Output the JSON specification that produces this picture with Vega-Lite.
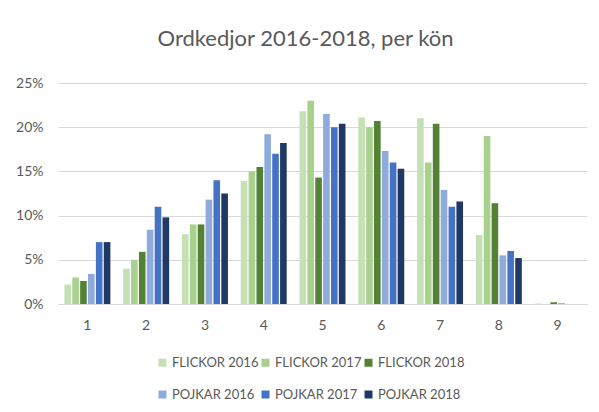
{
  "$schema": "https://vega.github.io/schema/vega-lite/v6.json",
  "width": 529,
  "height": 221,
  "autosize": {"type": "none"},
  "padding": {"left": 58, "top": 83, "right": 12, "bottom": 108},
  "background": "white",
  "title": {
    "text": "Ordkedjor 2016-2018, per kön",
    "font": "Lato",
    "fontSize": 22,
    "fontWeight": "normal",
    "color": "#595959",
    "anchor": "middle",
    "dx": -17,
    "offset": 25
  },
  "data": {
    "values": [
      {"cat": "1", "serie": "FLICKOR 2016", "value": 0.022},
      {"cat": "1", "serie": "FLICKOR 2017", "value": 0.030},
      {"cat": "1", "serie": "FLICKOR 2018", "value": 0.026},
      {"cat": "1", "serie": "POJKAR 2016", "value": 0.034},
      {"cat": "1", "serie": "POJKAR 2017", "value": 0.070},
      {"cat": "1", "serie": "POJKAR 2018", "value": 0.070},
      {"cat": "2", "serie": "FLICKOR 2016", "value": 0.040},
      {"cat": "2", "serie": "FLICKOR 2017", "value": 0.050},
      {"cat": "2", "serie": "FLICKOR 2018", "value": 0.059},
      {"cat": "2", "serie": "POJKAR 2016", "value": 0.084},
      {"cat": "2", "serie": "POJKAR 2017", "value": 0.110},
      {"cat": "2", "serie": "POJKAR 2018", "value": 0.098},
      {"cat": "3", "serie": "FLICKOR 2016", "value": 0.079},
      {"cat": "3", "serie": "FLICKOR 2017", "value": 0.090},
      {"cat": "3", "serie": "FLICKOR 2018", "value": 0.090},
      {"cat": "3", "serie": "POJKAR 2016", "value": 0.118},
      {"cat": "3", "serie": "POJKAR 2017", "value": 0.140},
      {"cat": "3", "serie": "POJKAR 2018", "value": 0.125},
      {"cat": "4", "serie": "FLICKOR 2016", "value": 0.139},
      {"cat": "4", "serie": "FLICKOR 2017", "value": 0.150},
      {"cat": "4", "serie": "FLICKOR 2018", "value": 0.155},
      {"cat": "4", "serie": "POJKAR 2016", "value": 0.192},
      {"cat": "4", "serie": "POJKAR 2017", "value": 0.170},
      {"cat": "4", "serie": "POJKAR 2018", "value": 0.182},
      {"cat": "5", "serie": "FLICKOR 2016", "value": 0.218},
      {"cat": "5", "serie": "FLICKOR 2017", "value": 0.230},
      {"cat": "5", "serie": "FLICKOR 2018", "value": 0.143},
      {"cat": "5", "serie": "POJKAR 2016", "value": 0.215},
      {"cat": "5", "serie": "POJKAR 2017", "value": 0.200},
      {"cat": "5", "serie": "POJKAR 2018", "value": 0.204},
      {"cat": "6", "serie": "FLICKOR 2016", "value": 0.211},
      {"cat": "6", "serie": "FLICKOR 2017", "value": 0.200},
      {"cat": "6", "serie": "FLICKOR 2018", "value": 0.207},
      {"cat": "6", "serie": "POJKAR 2016", "value": 0.173},
      {"cat": "6", "serie": "POJKAR 2017", "value": 0.160},
      {"cat": "6", "serie": "POJKAR 2018", "value": 0.153},
      {"cat": "7", "serie": "FLICKOR 2016", "value": 0.210},
      {"cat": "7", "serie": "FLICKOR 2017", "value": 0.160},
      {"cat": "7", "serie": "FLICKOR 2018", "value": 0.204},
      {"cat": "7", "serie": "POJKAR 2016", "value": 0.129},
      {"cat": "7", "serie": "POJKAR 2017", "value": 0.110},
      {"cat": "7", "serie": "POJKAR 2018", "value": 0.116},
      {"cat": "8", "serie": "FLICKOR 2016", "value": 0.078},
      {"cat": "8", "serie": "FLICKOR 2017", "value": 0.190},
      {"cat": "8", "serie": "FLICKOR 2018", "value": 0.114},
      {"cat": "8", "serie": "POJKAR 2016", "value": 0.055},
      {"cat": "8", "serie": "POJKAR 2017", "value": 0.060},
      {"cat": "8", "serie": "POJKAR 2018", "value": 0.052},
      {"cat": "9", "serie": "FLICKOR 2016", "value": 0.0005},
      {"cat": "9", "serie": "FLICKOR 2017", "value": 0.0},
      {"cat": "9", "serie": "FLICKOR 2018", "value": 0.002},
      {"cat": "9", "serie": "POJKAR 2016", "value": 0.001},
      {"cat": "9", "serie": "POJKAR 2017", "value": 0.0},
      {"cat": "9", "serie": "POJKAR 2018", "value": 0.0}
    ]
  },
  "mark": {"type": "bar"},
  "encoding": {
    "x": {
      "field": "cat",
      "type": "nominal",
      "scale": {"paddingInner": 0.218, "paddingOuter": 0.109},
      "axis": {
        "title": null,
        "labelAngle": 0,
        "labelFont": "Lato",
        "labelFontSize": 14,
        "labelColor": "#595959",
        "labelPadding": 14,
        "ticks": false,
        "domainColor": "#D9D9D9",
        "domainWidth": 1
      }
    },
    "xOffset": {
      "field": "serie",
      "type": "nominal",
      "scale": {"paddingInner": 0.16},
      "sort": ["FLICKOR 2016", "FLICKOR 2017", "FLICKOR 2018", "POJKAR 2016", "POJKAR 2017", "POJKAR 2018"]
    },
    "y": {
      "field": "value",
      "type": "quantitative",
      "scale": {"domain": [0, 0.25], "nice": false},
      "axis": {
        "title": null,
        "format": ".0%",
        "values": [0, 0.05, 0.1, 0.15, 0.2, 0.25],
        "labelFont": "Lato",
        "labelFontSize": 14,
        "labelColor": "#595959",
        "labelPadding": 15,
        "ticks": false,
        "domain": false,
        "gridColor": "#D9D9D9",
        "gridWidth": 1
      }
    },
    "color": {
      "field": "serie",
      "type": "nominal",
      "sort": ["FLICKOR 2016", "FLICKOR 2017", "FLICKOR 2018", "POJKAR 2016", "POJKAR 2017", "POJKAR 2018"],
      "scale": {
        "domain": ["FLICKOR 2016", "FLICKOR 2017", "FLICKOR 2018", "POJKAR 2016", "POJKAR 2017", "POJKAR 2018"],
        "range": ["#C5E0B4", "#A9D18E", "#548235", "#8FAADC", "#4472C4", "#203864"]
      },
      "legend": {
        "title": null,
        "orient": "none",
        "legendX": 98,
        "legendY": 273,
        "direction": "horizontal",
        "columns": 3,
        "symbolType": "square",
        "symbolSize": 64,
        "symbolStrokeWidth": 0,
        "labelFont": "Lato",
        "labelFontSize": 13,
        "labelColor": "#595959",
        "labelOffset": 3,
        "columnPadding": -10,
        "rowPadding": 18
      }
    }
  },
  "config": {
    "view": {"stroke": null}
  }
}
